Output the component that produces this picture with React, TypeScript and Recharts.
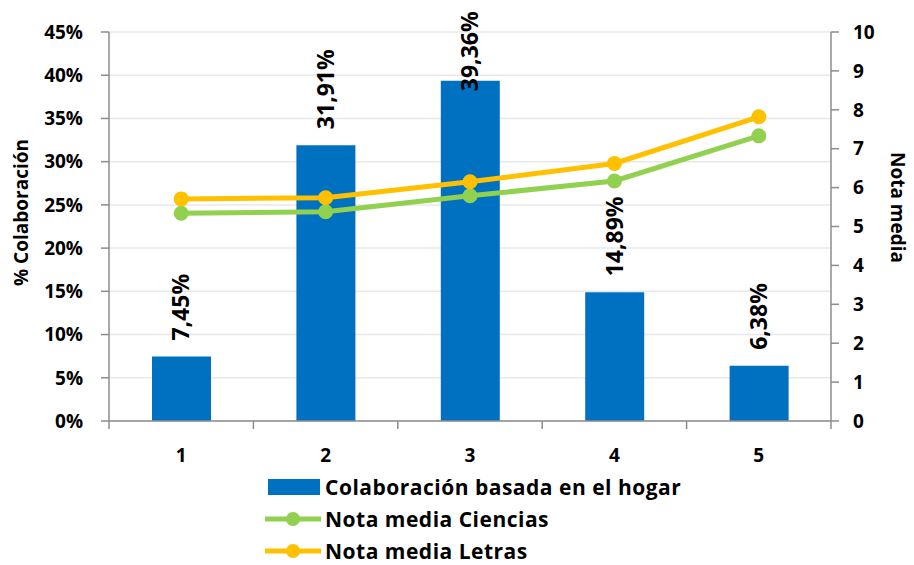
import { ComposedChart, Bar, Line, XAxis, YAxis, CartesianGrid, LabelList, Label } from 'recharts';

const categories = ['1', '2', '3', '4', '5'];
const colaboracion = [7.45, 31.91, 39.36, 14.89, 6.38];
const notaCiencias = [5.34, 5.38, 5.79, 6.17, 7.33];
const notaLetras = [5.71, 5.74, 6.15, 6.62, 7.82];
const pctTicks = [0, 5, 10, 15, 20, 25, 30, 35, 40, 45];
const notaTicks = [0, 1, 2, 3, 4, 5, 6, 7, 8, 9, 10];

const W = 914;
const H = 565;
const LEFT_W = 109;
const RIGHT_W = 83;
const BAND = (W - LEFT_W - RIGHT_W) / categories.length;

const BLUE = '#0070C0';
const GREEN = '#92D050';
const ORANGE = '#FFC000';
const AXIS = '#8c8c8c';
const FONT = '"Open Sans", Lato, sans-serif';

const data = categories.map((c, i) => ({
  cat: c,
  colab: colaboracion[i],
  ciencias: notaCiencias[i],
  letras: notaLetras[i],
}));

const pct = (v: number) => `${v.toFixed(2).replace('.', ',')}%`;

// category labels with Excel-style ticks between categories
const CatTick = (props: any) => {
  const { x, y, payload, index } = props;
  const left = x - BAND / 2;
  return (
    <g>
      <line x1={left} y1={y} x2={left} y2={y + 8} stroke={AXIS} strokeWidth={1.5} />
      {index === categories.length - 1 && (
        <line x1={x + BAND / 2} y1={y} x2={x + BAND / 2} y2={y + 8} stroke={AXIS} strokeWidth={1.5} />
      )}
      <text x={x} y={y + 41} textAnchor="middle" fontFamily={FONT} fontWeight={700} fontSize={19} fill="#000">
        {payload.value}
      </text>
    </g>
  );
};

// vertical value label above each bar, pushed down when it would leave the chart
const BarValue = (props: any) => {
  const { x, y, width, value } = props;
  const text = pct(value);
  const len = text.length * 13.2;
  const cx = x + width / 2 + 8;
  let base = y - 16;
  if (base - len < 12) base = 12 + len;
  return (
    <text
      x={cx}
      y={base}
      transform={`rotate(-90 ${cx} ${base})`}
      textAnchor="start"
      fontFamily={FONT}
      fontWeight={700}
      fontSize={23}
      fill="#000"
    >
      {text}
    </text>
  );
};

const legendItems = [
  { name: 'Colaboración basada en el hogar', color: BLUE, kind: 'bar' },
  { name: 'Nota media Ciencias', color: GREEN, kind: 'line' },
  { name: 'Nota media Letras', color: ORANGE, kind: 'line' },
];

const tickStyle = { fontFamily: FONT, fontWeight: 700, fontSize: 19, fill: '#000' };

export default function App() {
  return (
    <div style={{ position: 'fixed', left: 0, top: 0, width: W, height: H, background: '#fff' }}>
      <ComposedChart width={W} height={H} data={data} margin={{ top: 32, right: 0, left: 0, bottom: 0 }}>
        <CartesianGrid yAxisId="left" vertical={false} stroke="#e8e8e8" strokeWidth={1.5} />
        <XAxis
          dataKey="cat"
          height={144}
          tickLine={false}
          tickSize={0}
          tickMargin={0}
          axisLine={{ stroke: AXIS, strokeWidth: 1.5 }}
          tick={<CatTick />}
          interval={0}
        />
        <YAxis
          yAxisId="left"
          width={LEFT_W}
          domain={[0, 45]}
          ticks={pctTicks}
          tickFormatter={(v: number) => `${v}%`}
          tick={tickStyle}
          tickSize={8}
          tickMargin={18}
          tickLine={{ stroke: AXIS, strokeWidth: 1.5 }}
          axisLine={{ stroke: AXIS, strokeWidth: 1.5 }}
          interval={0}
        >
          <Label
            value="% Colaboración"
            angle={-90}
            position="insideLeft"
            offset={21}
            dy={-14}
            style={{ ...tickStyle, textAnchor: 'middle' }}
          />
        </YAxis>
        <YAxis
          yAxisId="right"
          orientation="right"
          width={RIGHT_W}
          domain={[0, 10]}
          ticks={notaTicks}
          tick={tickStyle}
          tickSize={8}
          tickMargin={14}
          tickLine={{ stroke: AXIS, strokeWidth: 1.5 }}
          axisLine={{ stroke: AXIS, strokeWidth: 1.5 }}
          interval={0}
        >
          <Label
            value="Nota media"
            angle={90}
            position="insideRight"
            offset={16}
            dy={-19}
            style={{ ...tickStyle, textAnchor: 'middle' }}
          />
        </YAxis>
        <Bar yAxisId="left" dataKey="colab" fill={BLUE} barSize={59} isAnimationActive={false}>
          <LabelList dataKey="colab" content={<BarValue />} />
        </Bar>
        <Line
          yAxisId="right"
          dataKey="ciencias"
          stroke={GREEN}
          strokeWidth={5}
          dot={{ r: 7.5, fill: GREEN, stroke: GREEN, strokeWidth: 0 }}
          isAnimationActive={false}
        />
        <Line
          yAxisId="right"
          dataKey="letras"
          stroke={ORANGE}
          strokeWidth={5}
          dot={{ r: 7.5, fill: ORANGE, stroke: ORANGE, strokeWidth: 0 }}
          isAnimationActive={false}
        />
      </ComposedChart>
      <div
        style={{
          position: 'absolute',
          left: 265,
          top: 477,
          display: 'flex',
          flexDirection: 'column',
          rowGap: 12,
          fontFamily: FONT,
          fontWeight: 700,
          fontSize: 21,
          letterSpacing: 0.5,
        }}
      >
        {legendItems.map((it) => (
          <div key={it.name} style={{ display: 'flex', alignItems: 'center', height: 20, lineHeight: '20px' }}>
            <svg width={58} height={20} style={{ marginRight: 2 }}>
              {it.kind === 'bar' ? (
                <rect x={3} y={2} width={52} height={16} fill={it.color} />
              ) : (
                <g>
                  <line x1={0} y1={10} x2={56} y2={10} stroke={it.color} strokeWidth={5} />
                  <circle cx={28} cy={10} r={7} fill={it.color} />
                </g>
              )}
            </svg>
            <span style={{ color: '#000' }}>{it.name}</span>
          </div>
        ))}
      </div>
    </div>
  );
}
